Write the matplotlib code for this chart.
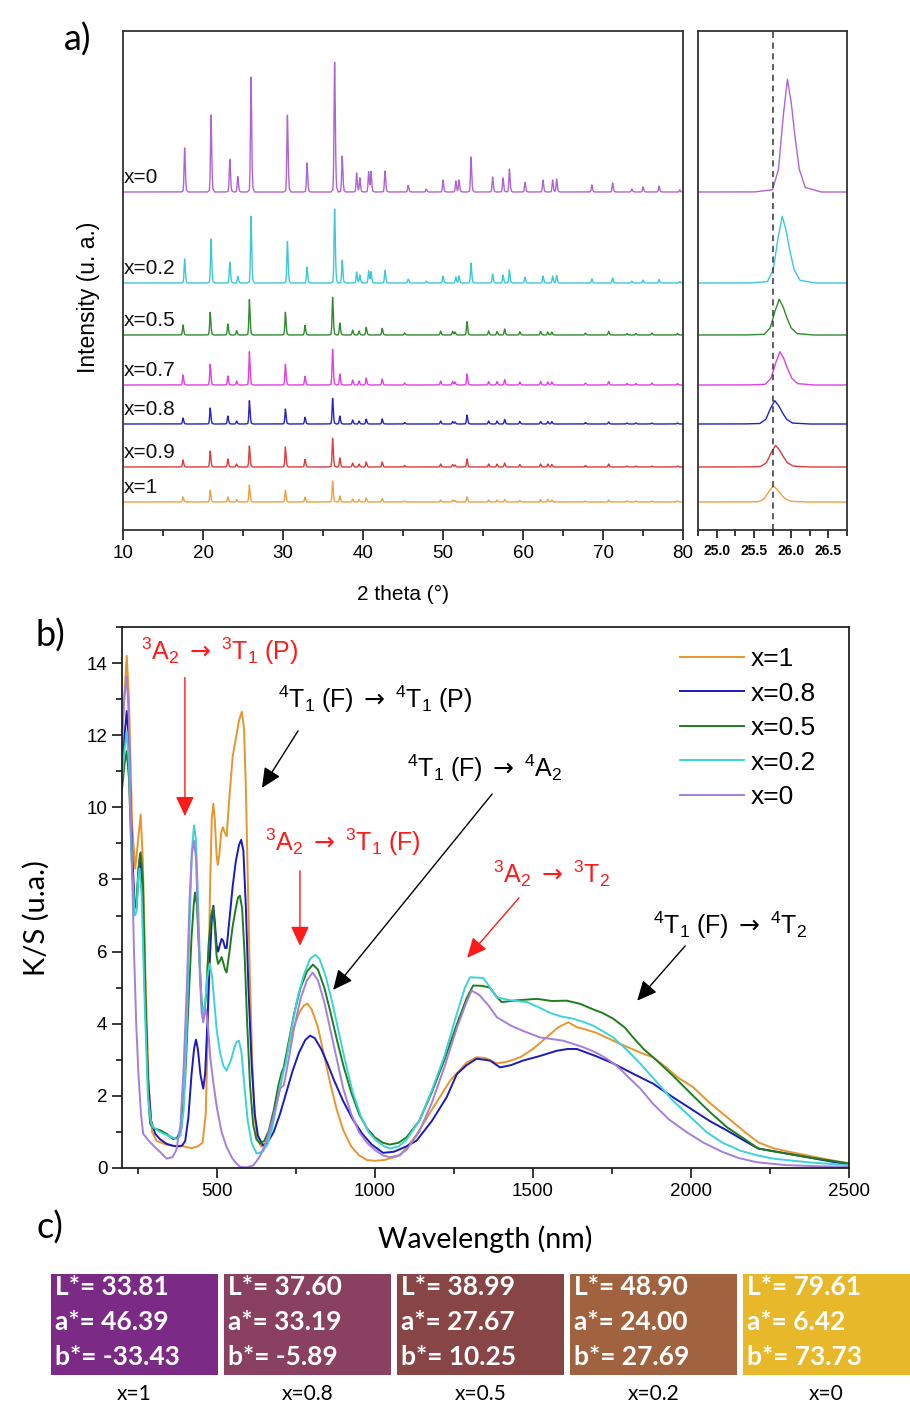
import numpy as np
import matplotlib
matplotlib.use("Agg")
import matplotlib.pyplot as plt
from matplotlib.patches import Rectangle
from matplotlib.ticker import MultipleLocator

plt.rcParams["font.family"] = ["Liberation Sans", "DejaVu Sans"]
plt.rcParams["mathtext.fontset"] = "custom"
plt.rcParams["mathtext.rm"] = "Lato"
plt.rcParams["mathtext.it"] = "Lato:italic"
plt.rcParams["mathtext.bf"] = "Lato:bold"
plt.rcParams["mathtext.sf"] = "DejaVu Sans"
plt.rcParams["mathtext.fallback"] = "stixsans"

# ---------------- panel a : XRD ----------------
XRD_LABELS = ["x=0", "x=0.2", "x=0.5", "x=0.7", "x=0.8", "x=0.9", "x=1"]
XRD_COLORS = ["#b163d3", "#3cc8d8", "#2e8b2e", "#e040e0", "#2222cc", "#e03a3a", "#f0a040"]
XRD_OFFSETS = [338, 247, 195, 145, 106, 63, 28]

# peak positions (2 theta) on the Zn-rich side (x=0, x=0.2)
POS_ZN = [17.7, 21.0, 23.35, 24.35, 26.0, 30.55, 33.0, 36.45, 37.4, 39.2,
          39.6, 40.7, 41.0, 42.75, 45.65, 47.9, 50.0, 51.6, 52.0, 53.5,
          56.2, 57.5, 58.3, 60.25, 62.5, 63.7, 64.2, 68.6, 71.2, 73.6,
          75.0, 77.0, 79.6]
H_X0 = [44, 77, 34, 16, 115, 80, 29, 135, 36, 19, 14, 20, 20, 22, 7, 3, 12, 11, 12, 35,
        15, 14, 23, 10, 12, 12, 13, 7, 9, 3, 5, 6, 2]
H_X02 = [24, 44, 21.7, 7, 66.7, 43, 16, 77, 22.7, 11, 8, 12, 11, 13, 4, 2, 7, 6, 7, 20,
         9, 8, 13, 6, 7, 7, 7.5, 4, 5, 2, 3, 3.5, 1.5]
# peak positions on the Co-rich side (x=0.5 ... x=1)
POS_CO = [17.5, 20.9, 23.1, 24.2, 25.8, 30.3, 32.75, 36.2, 37.1, 38.7,
          39.5, 40.4, 42.4, 45.2, 49.7, 51.2, 51.5, 53.0, 55.7, 56.75,
          57.7, 59.6, 62.2, 63.1, 63.6, 67.8, 70.7, 73.0, 74.1, 76.1, 79.3]
H_X05 = [10, 22.7, 11, 4.3, 35.3, 22.7, 10, 37.7, 12, 5, 4, 7.7, 6.7, 2, 4,
         3.7, 3, 13.3, 4, 3.7, 6, 3.3, 3.7, 3, 3, 2, 3.7, 1.5, 1.5, 2, 1.5]
H_X07 = [10, 20.7, 9, 4, 33.3, 20.7, 9, 35.7, 11, 5, 4, 7, 6, 2, 4,
         3.5, 3, 11, 3.5, 3.5, 5.5, 3, 3.5, 3, 3, 2, 3.5, 1.5, 1.5, 2, 1.5]
H_X08 = [6, 16, 8, 3, 23.3, 15, 7, 25.7, 8, 4, 3, 5, 5, 1.5, 3,
         2.5, 2, 9, 3, 3, 4.5, 2.5, 2.5, 2.5, 2.5, 1.5, 2, 1, 1, 1, 1]
H_X09 = [7, 16, 8, 3, 21, 20, 8, 28.7, 9, 4, 3, 5, 5, 1.5, 3,
         2.5, 2, 8, 3, 3, 4, 2.5, 3, 3, 2.5, 1.5, 3, 1, 1, 1, 1]
H_X1 = [5, 11.7, 5, 2.5, 17, 11.7, 5, 21, 6, 3, 2.5, 4, 3.5, 1, 2,
        2, 1.5, 5, 2, 2, 2.5, 1.5, 2.5, 2.5, 2, 1, 2, 1, 1, 1, 1]
XRD_POS = [POS_ZN, POS_ZN, POS_CO, POS_CO, POS_CO, POS_CO, POS_CO]
XRD_H = [H_X0, H_X02, H_X05, H_X07, H_X08, H_X09, H_X1]

# zoom on the (220) reflection
INSET_POS = [25.95, 25.88, 25.84, 25.85, 25.78, 25.79, 25.76]
INSET_H = [112.7, 66.7, 35.7, 33.3, 23.3, 21.7, 16]

# ---------------- panel b : K/S ----------------
KS_LABELS = ["x=1", "x=0.8", "x=0.5", "x=0.2", "x=0"]
KS_COLORS = ["#e8952c", "#1a1abf", "#1e7d1e", "#3cd3d8", "#a57fdc"]

WL_X1 = [200, 208, 215, 222, 232, 242, 250, 259, 266, 275, 285, 295, 310, 340, 370, 395, 420, 440,
         455, 465, 472, 478, 484, 489, 494, 499, 503, 508, 514, 519, 525, 531, 540, 550, 560, 570,
         579, 586, 592, 598, 604, 612, 620, 628, 640, 655, 675, 700, 720, 740, 760, 775, 786, 800,
         820, 840, 860, 880, 900, 925, 950, 975, 1000, 1030, 1080, 1130, 1185, 1238, 1291, 1322,
         1350, 1386, 1420, 1460, 1500, 1540, 1580, 1612, 1640, 1659, 1700, 1754, 1800, 1840, 1880,
         1920, 1960, 2007, 2060, 2114, 2170, 2213, 2260, 2310, 2368, 2430, 2497]
KS_X1 = [11.8, 13.2, 14.2, 13.0, 9.5, 8.3, 9.0, 9.8, 8.5, 5.0, 2.2, 1.0, 0.75, 0.65, 0.6, 0.6, 0.55,
         0.6, 0.7, 1.5, 4.0, 7.5, 9.7, 10.1, 9.6, 8.7, 8.4, 8.7, 9.3, 9.45, 9.3, 9.2, 10.3, 11.4,
         11.9, 12.4, 12.65, 12.2, 10.5, 8.0, 5.5, 3.0, 1.4, 0.8, 0.6, 0.7, 1.2, 2.2, 3.1, 3.8, 4.3,
         4.5, 4.56, 4.4, 3.9, 3.1, 2.3, 1.6, 1.05, 0.6, 0.35, 0.22, 0.2, 0.22, 0.35, 0.9, 1.68,
         2.42, 2.93, 3.07, 3.05, 2.9, 2.95, 3.07, 3.3, 3.6, 3.9, 4.04, 3.9, 3.86, 3.75, 3.53, 3.35,
         3.2, 3.07, 2.8, 2.5, 2.24, 1.8, 1.41, 1.0, 0.71, 0.55, 0.45, 0.35, 0.24, 0.13]

WL_X08 = [200, 208, 215, 222, 232, 240, 246, 252, 257, 263, 272, 282, 292, 305, 320, 341, 360, 375,
          390, 400, 410, 420, 428, 434, 440, 448, 457, 463, 470, 478, 484, 489, 494, 499, 504, 510,
          515, 520, 526, 531, 540, 550, 560, 570, 577, 584, 592, 600, 610, 620, 630, 646, 660, 680,
          700, 720, 740, 760, 780, 795, 810, 830, 850, 870, 900, 930, 960, 990, 1026, 1060, 1100,
          1132, 1180, 1227, 1259, 1290, 1322, 1364, 1396, 1430, 1469, 1520, 1575, 1610, 1639, 1700,
          1754, 1820, 1880, 1940, 2007, 2060, 2114, 2170, 2213, 2290, 2368, 2430, 2497]
KS_X08 = [10.8, 12.0, 12.67, 11.8, 8.8, 7.3, 7.2, 8.2, 8.7, 8.0, 5.0, 2.5, 1.3, 0.95, 0.8, 0.67,
          0.62, 0.6, 0.62, 0.75, 1.4, 2.6, 3.3, 3.56, 3.3, 2.6, 2.2, 2.6, 4.0, 5.8, 6.9, 7.27, 6.8,
          6.2, 6.0, 6.2, 6.35, 6.3, 6.1, 6.1, 6.9, 7.8, 8.5, 8.95, 9.1, 8.8, 7.2, 5.0, 2.9, 1.5,
          0.9, 0.62, 0.7, 1.0, 1.5, 2.1, 2.7, 3.2, 3.55, 3.67, 3.6, 3.3, 2.9, 2.45, 1.85, 1.35,
          0.95, 0.65, 0.42, 0.45, 0.6, 0.76, 1.3, 1.96, 2.6, 2.85, 3.03, 2.98, 2.79, 2.85, 2.98,
          3.1, 3.25, 3.3, 3.3, 3.1, 2.9, 2.6, 2.34, 1.98, 1.6, 1.3, 1.04, 0.75, 0.54, 0.42, 0.3,
          0.2, 0.1]

WL_X05 = [200, 208, 215, 222, 232, 240, 245, 252, 259, 266, 275, 283, 289, 300, 320, 341, 362, 375,
          388, 400, 410, 420, 427, 431, 437, 445, 452, 459, 466, 474, 482, 488, 494, 499, 504, 510,
          515, 520, 526, 531, 540, 550, 560, 567, 573, 580, 588, 596, 605, 615, 625, 637, 650, 665,
          680, 695, 705, 712, 725, 745, 765, 785, 804, 820, 840, 860, 880, 900, 925, 950, 975, 1000,
          1025, 1048, 1075, 1100, 1140, 1180, 1220, 1260, 1290, 1311, 1340, 1364, 1385, 1401, 1450,
          1512, 1560, 1607, 1650, 1690, 1720, 1754, 1790, 1817, 1850, 1892, 1950, 2007, 2060, 2114,
          2170, 2213, 2290, 2368, 2430, 2497]
KS_X05 = [10.5, 11.2, 11.56, 10.8, 8.2, 7.3, 7.3, 8.3, 8.75, 8.0, 4.5, 2.0, 1.23, 1.1, 1.05, 0.95,
          0.8, 0.85, 1.1, 2.5, 4.5, 6.4, 7.3, 7.64, 7.3, 5.8, 4.6, 4.18, 4.8, 6.2, 7.0, 7.22, 6.6,
          5.9, 5.66, 5.75, 5.85, 5.7, 5.5, 5.42, 6.0, 6.7, 7.2, 7.5, 7.55, 7.2, 5.9, 4.0, 2.3, 1.2,
          0.8, 0.68, 0.75, 1.05, 1.6, 2.3, 2.65, 2.8, 3.4, 4.3, 5.0, 5.45, 5.64, 5.5, 5.0, 4.3, 3.55,
          2.85, 2.1, 1.5, 1.1, 0.85, 0.7, 0.65, 0.7, 0.85, 1.3, 2.1, 3.0, 4.0, 4.7, 5.06, 5.05, 5.0,
          4.75, 4.6, 4.65, 4.69, 4.63, 4.64, 4.55, 4.4, 4.3, 4.14, 3.9, 3.62, 3.3, 2.98, 2.5, 2.0,
          1.55, 1.13, 0.8, 0.54, 0.42, 0.3, 0.22, 0.13]

WL_X02 = [200, 208, 215, 222, 232, 240, 246, 251, 255, 262, 272, 282, 292, 299, 320, 345, 373, 385,
          395, 405, 414, 421, 428, 434, 440, 447, 452, 457, 463, 470, 478, 485, 492, 500, 510, 520,
          531, 545, 556, 563, 570, 578, 588, 598, 610, 626, 645, 660, 675, 690, 700, 708, 718, 735,
          755, 775, 795, 811, 825, 845, 865, 885, 905, 930, 955, 980, 1005, 1030, 1048, 1075, 1100,
          1140, 1180, 1220, 1260, 1285, 1301, 1343, 1365, 1386, 1430, 1481, 1520, 1554, 1590, 1627,
          1660, 1690, 1720, 1754, 1800, 1839, 1890, 1943, 2000, 2050, 2100, 2156, 2210, 2260, 2380,
          2497]
KS_X02 = [10.8, 11.6, 12.1, 11.2, 8.3, 7.0, 7.1, 8.0, 8.3, 7.6, 4.5, 2.0, 1.25, 1.13, 1.0, 0.9,
          0.8, 0.9, 1.6, 4.0, 6.8, 8.8, 9.5, 9.1, 7.6, 5.5, 4.5, 4.2, 4.6, 5.3, 5.67, 5.3, 4.6, 3.8,
          3.2, 2.85, 2.7, 3.0, 3.35, 3.5, 3.53, 3.2, 2.2, 1.3, 0.7, 0.4, 0.45, 0.65, 1.1, 1.8, 2.3,
          2.6, 2.9, 3.8, 4.7, 5.35, 5.8, 5.91, 5.8, 5.3, 4.6, 3.8, 3.0, 2.1, 1.45, 1.0, 0.75, 0.6,
          0.54, 0.6, 0.78, 1.3, 2.15, 3.1, 4.3, 5.0, 5.29, 5.27, 5.0, 4.73, 4.65, 4.6, 4.45, 4.3,
          4.2, 4.14, 4.05, 3.95, 3.8, 3.62, 3.25, 2.9, 2.4, 1.87, 1.4, 0.99, 0.7, 0.48, 0.35, 0.26,
          0.15, 0.08]

WL_X0 = [200, 208, 215, 222, 230, 238, 245, 252, 260, 267, 285, 304, 320, 341, 360, 372, 385, 395,
         405, 414, 421, 428, 434, 440, 447, 452, 457, 462, 466, 472, 480, 490, 500, 515, 531, 550,
         573, 595, 615, 635, 655, 675, 692, 700, 712, 725, 745, 765, 785, 803, 820, 840, 860, 880,
         900, 925, 950, 975, 1000, 1025, 1048, 1075, 1100, 1140, 1180, 1220, 1260, 1290, 1306, 1330,
         1360, 1386, 1430, 1469, 1523, 1596, 1659, 1700, 1734, 1770, 1797, 1840, 1880, 1930, 1987,
         2040, 2101, 2150, 2208, 2300, 2400, 2497]
KS_X0 = [12.0, 13.1, 13.64, 12.4, 9.0, 6.0, 4.0, 2.6, 1.5, 0.95, 0.75, 0.58, 0.45, 0.26, 0.3, 0.5,
         1.2, 2.8, 5.0, 7.5, 8.7, 9.07, 8.6, 7.0, 5.2, 4.3, 4.04, 4.3, 4.4, 3.9, 3.0, 2.3, 1.68, 1.0,
         0.58, 0.25, 0.03, 0.02, 0.07, 0.3, 0.7, 1.3, 1.9, 2.2, 2.3, 2.9, 3.9, 4.7, 5.2, 5.42, 5.2,
         4.6, 3.8, 3.0, 2.2, 1.5, 1.0, 0.7, 0.5, 0.35, 0.3, 0.35, 0.5, 1.0, 1.8, 2.8, 3.9, 4.6, 4.92,
         4.8, 4.5, 4.18, 3.95, 3.8, 3.62, 3.53, 3.35, 3.2, 3.03, 2.8, 2.56, 2.2, 1.78, 1.35, 0.99,
         0.7, 0.44, 0.28, 0.16, 0.08, 0.05, 0.03]

KS_WL = [WL_X1, WL_X08, WL_X05, WL_X02, WL_X0]
KS_VAL = [KS_X1, KS_X08, KS_X05, KS_X02, KS_X0]

# ---------------- panel c : CIELab ----------------
LAB_SAMPLES = ["x=1", "x=0.8", "x=0.5", "x=0.2", "x=0"]
LAB_L = ["33.81", "37.60", "38.99", "48.90", "79.61"]
LAB_A = ["46.39", "33.19", "27.67", "24.00", "6.42"]
LAB_B = ["-33.43", "-5.89", "10.25", "27.69", "73.73"]
LAB_COLORS = ["#7b2a86", "#8a4060", "#874545", "#a0623f", "#e6b82a"]

# peak profile used to draw each reflection (relative offsets in 2 theta)
SHAPE_DX = [-0.45, -0.2, -0.12, -0.06, 0.0, 0.05, 0.1, 0.16, 0.24, 0.45]
SHAPE_Y = [0.0, 0.02, 0.2, 0.65, 1.0, 0.8, 0.5, 0.2, 0.04, 0.0]


def pattern(grid, pos, hts):
    y = np.zeros_like(grid)
    for p, h in zip(pos, hts):
        y += h * np.interp(grid - p, SHAPE_DX, SHAPE_Y, left=0, right=0)
    return y


fig = plt.figure(figsize=(9.1, 14.05), dpi=100)
W, H = 910.0, 1405.0

# ---- a) main
ax_a = fig.add_axes([123 / W, 1 - 530 / H, 560 / W, 499 / H])
grid = np.arange(10, 80.001, 0.02)
for lab, col, off, pos, hts in zip(XRD_LABELS, XRD_COLORS, XRD_OFFSETS, XRD_POS, XRD_H):
    ax_a.plot(grid, off + pattern(grid, pos, hts), color=col, lw=1.0)
    ax_a.text(10.15, off + 9, lab, fontsize=15, ha="left", va="baseline", color="#111")
ax_a.set_xlim(10, 80)
ax_a.set_ylim(0, 499)
ax_a.set_yticks([])
ax_a.xaxis.set_major_locator(MultipleLocator(10))
ax_a.xaxis.set_minor_locator(MultipleLocator(5))
ax_a.tick_params(axis="x", which="major", direction="out", length=7, width=1.1, labelsize=13.5, pad=4)
ax_a.tick_params(axis="x", which="minor", direction="out", length=4, width=1.1)
ax_a.set_xlabel("2 theta (°)", fontsize=15, labelpad=16)
for s in ax_a.spines.values():
    s.set_linewidth(1.3)
    s.set_color("#333")

# ---- a) inset
ax_in = fig.add_axes([698 / W, 1 - 530 / H, 149 / W, 499 / H])
gi = np.arange(24.75, 26.751, 0.005)
for col, off, p, h in zip(XRD_COLORS, XRD_OFFSETS, INSET_POS, INSET_H):
    ax_in.plot(gi, off + pattern(gi, [p], [h]), color=col, lw=1.0)
ax_in.axvline(25.75, color="#333", lw=1.1, ls=(0, (4, 3)))
ax_in.set_xlim(24.75, 26.75)
ax_in.set_ylim(0, 499)
ax_in.set_yticks([])
ax_in.xaxis.set_major_locator(MultipleLocator(0.5))
ax_in.xaxis.set_minor_locator(MultipleLocator(0.25))
ax_in.set_xticks([25.0, 25.5, 26.0, 26.5])
ax_in.set_xticklabels(["25.0", "25.5", "26.0", "26.5"], fontweight="bold",
                      family=["Liberation Sans Narrow", "Liberation Sans"])
ax_in.tick_params(axis="x", which="major", direction="out", length=6, width=1.1, labelsize=10, pad=4)
ax_in.tick_params(axis="x", which="minor", direction="out", length=4, width=1.1)
for s in ax_in.spines.values():
    s.set_linewidth(1.3)
    s.set_color("#333")

fig.text(88 / W, 1 - 297 / H, "Intensity (u. a.)", rotation=90, ha="center", va="center", fontsize=16.5)

# ---- b) K/S
ax_b = fig.add_axes([122 / W, 1 - 1168 / H, 727 / W, 541 / H])
for lab, col, wl, ks in zip(KS_LABELS, KS_COLORS, KS_WL, KS_VAL):
    ax_b.plot(wl, ks, color=col, lw=1.4, label=lab)
ax_b.set_xlim(200, 2500)
ax_b.set_ylim(0, 15)
ax_b.xaxis.set_major_locator(MultipleLocator(500))
ax_b.xaxis.set_minor_locator(MultipleLocator(250))
ax_b.yaxis.set_major_locator(MultipleLocator(2))
ax_b.yaxis.set_minor_locator(MultipleLocator(1))
ax_b.tick_params(which="major", direction="out", length=7, width=1.1, labelsize=13.5)
ax_b.tick_params(which="minor", direction="out", length=4, width=1.1)
ax_b.set_xlabel("Wavelength (nm)", fontsize=20.5, family=["Lato", "DejaVu Sans"])
ax_b.xaxis.set_label_coords(0.5, -0.107)
ax_b.set_ylabel("K/S (u.a.)", fontsize=21, family=["Lato", "DejaVu Sans"])
ax_b.yaxis.set_label_coords(-0.099, 0.462)
for s in ax_b.spines.values():
    s.set_linewidth(1.3)
    s.set_color("#222")
ax_b.legend(loc="upper left", bbox_to_anchor=(0.768, 0.963), frameon=False, fontsize=19,
            handlelength=2.4, handletextpad=0.25, labelspacing=0.4, borderpad=0, borderaxespad=0)

RED = "#ff1a1a"
ARW = r"\mathsf{\rightarrow}"
ANNOT = [
    (r"$\mathregular{^{3}A_{2}\ }" + ARW + r"\mathregular{\ ^{3}T_{1}\ (P)}$", RED, (507, 14.33), (399, 13.6), (399, 9.76)),
    (r"$\mathregular{^{4}T_{1}\ (F)\ }" + ARW + r"\mathregular{\ ^{4}T_{1}\ (P)}$", "black", (1001, 13.0), (757, 12.12), (643, 10.54)),
    (r"$\mathregular{^{4}T_{1}\ (F)\ }" + ARW + r"\mathregular{\ ^{4}A_{2}}$", "black", (1349, 11.07), (1371, 10.37), (868, 4.94)),
    (r"$\mathregular{^{3}A_{2}\ }" + ARW + r"\mathregular{\ ^{3}T_{1}\ (F)}$", RED, (899, 9.04), (763, 8.24), (763, 6.16)),
    (r"$\mathregular{^{3}A_{2}\ }" + ARW + r"\mathregular{\ ^{3}T_{2}}$", RED, (1558, 8.16), (1456, 7.49), (1292, 5.83)),
    (r"$\mathregular{^{4}T_{1}\ (F)\ }" + ARW + r"\mathregular{\ ^{4}T_{2}}$", "black", (2124, 6.74), (1982, 6.16), (1830, 4.64)),
]
for txt, col, tpos, tail, tip in ANNOT:
    ax_b.text(tpos[0], tpos[1], txt, color=col, fontsize=18, ha="center", va="center")
    ax_b.annotate("", xy=tip, xytext=tail,
                  arrowprops=dict(arrowstyle="-|>,head_length=0.75,head_width=0.35", color=col,
                                  lw=1.0, mutation_scale=16, shrinkA=0, shrinkB=0))

# ---- c) colour swatches
ax_c = fig.add_axes([51 / W, 0, 865 / W, 143 / H])
ax_c.set_xlim(0, 5)
ax_c.set_ylim(1405, 1262)
ax_c.axis("off")
for i, (lab, L, a, b, col) in enumerate(zip(LAB_SAMPLES, LAB_L, LAB_A, LAB_B, LAB_COLORS)):
    ax_c.add_patch(Rectangle((i, 1274), 0.965, 101, facecolor=col, edgecolor="none"))
    for yy, t in zip([1287, 1322, 1357], ["L*= " + L, "a*= " + a, "b*= " + b]):
        ax_c.text(i + 0.025, yy, t, color="white", fontsize=19, fontweight="bold",
                  family=["Lato", "DejaVu Sans"], ha="left", va="center")
    ax_c.text(i + 0.4825, 1394, lab, fontsize=15, family=["Lato", "DejaVu Sans"],
              ha="center", va="center")

for txt, x, y in [("a)", 78, 40), ("b)", 50, 636), ("c)", 50, 1228)]:
    fig.text(x / W, 1 - y / H, txt, fontsize=26, family=["Lato", "DejaVu Sans"], ha="center", va="center")

fig.savefig("out.png", dpi=100)
